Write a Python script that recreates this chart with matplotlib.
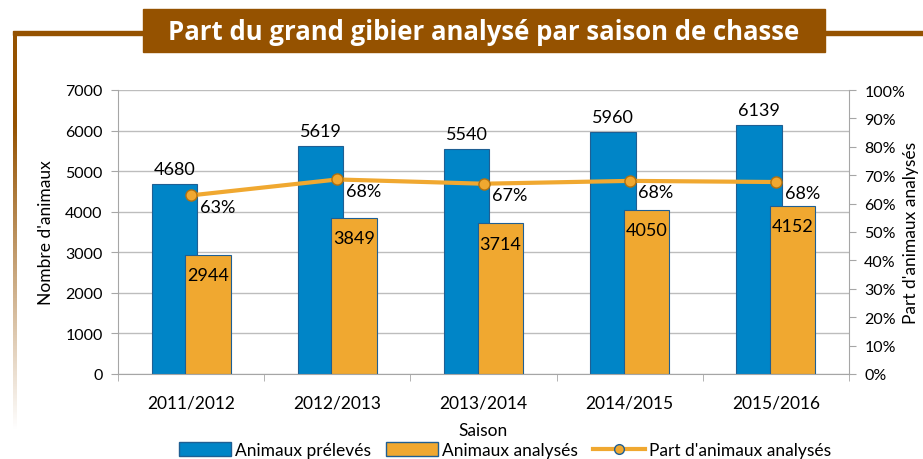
import numpy as np
import matplotlib
matplotlib.use('Agg')
import matplotlib.pyplot as plt
from matplotlib.patches import Rectangle
from matplotlib.lines import Line2D
from matplotlib.ticker import PercentFormatter, FixedLocator

plt.rcParams['font.family'] = ['Lato', 'DejaVu Sans']

saisons = ['2011/2012', '2012/2013', '2013/2014', '2014/2015', '2015/2016']
preleves = [4680, 5619, 5540, 5960, 6139]
analyses = [2944, 3849, 3714, 4050, 4152]
part = [0.629, 0.685, 0.670, 0.680, 0.676]
part_labels = ['63%', '68%', '67%', '68%', '68%']

blue = '#0085C7'
blue_edge = '#1F5F93'
orange = '#F0A830'
brown = '#955200'
grid_grey = '#BDBDBD'

fig = plt.figure(figsize=(9.23, 4.6), dpi=100)
W, H = 923, 460

def fx(px):
    return px / W

def fy(py):
    return 1 - py / H

# title banner and frame lines
fig.add_artist(Rectangle((fx(143), fy(53)), fx(825 - 143), (53 - 10) / H,
                         transform=fig.transFigure, color=brown, zorder=5))
fig.add_artist(Rectangle((fx(13), fy(36)), fx(143 - 13), 4 / H,
                         transform=fig.transFigure, color=brown, zorder=4))
fig.add_artist(Rectangle((fx(825), fy(36)), fx(W - 825), 4 / H,
                         transform=fig.transFigure, color=brown, zorder=4))
fig.text(fx(484), fy(32), 'Part du grand gibier analysé par saison de chasse',
         color='white', fontsize=18.5, fontweight='bold', ha='center', va='center',
         family=['Open Sans', 'DejaVu Sans'], zorder=6)

# fading vertical line on the left
gax = fig.add_axes([fx(13), fy(440), fx(4), (440 - 32) / H])
gax.axis('off')
t = np.linspace(0, 1, 200)
img = np.zeros((200, 1, 4))
img[..., 0] = 0x95 / 255
img[..., 1] = 0x52 / 255
img[..., 2] = 0
img[:, 0, 3] = np.clip((t - 0.02) / 0.75, 0, 1)  # bottom -> top
gax.imshow(img, aspect='auto', origin='lower', extent=(0, 1, 0, 1))

# main chart
ax = fig.add_axes([fx(118), fy(375), fx(849 - 118), (375 - 91) / H])
x = np.arange(len(saisons))
w = 0.31
off = 0.115

ax.bar(x - off, preleves, w, color=blue, edgecolor=blue_edge, linewidth=0.8, zorder=2)
ax.bar(x + off, analyses, w, color=orange, edgecolor=blue_edge, linewidth=0.8, zorder=3)

for i in range(len(saisons)):
    ax.text(x[i] - off, preleves[i] + 180, str(preleves[i]), ha='center', va='bottom',
            fontsize=13, zorder=6)
    ax.text(x[i] + off, analyses[i] - 500, str(analyses[i]), ha='center', va='center',
            fontsize=13, zorder=6)

ax.set_xlim(-0.5, len(saisons) - 0.5)
ax.set_ylim(0, 7000)
ax.set_yticks(range(0, 7001, 1000))
ax.yaxis.grid(True, color=grid_grey, linewidth=1, zorder=0)
ax.set_axisbelow(True)
ax.set_xticks(x)
ax.set_xticklabels(saisons, fontsize=12.5)
ax.xaxis.set_minor_locator(FixedLocator(np.arange(-0.5, len(saisons), 1.0)))
ax.tick_params(axis='x', which='major', length=0, pad=15)
ax.tick_params(axis='x', which='minor', length=5, color='#A6A6A6')
ax.tick_params(axis='y', length=5, color='#A6A6A6', labelsize=11.5, pad=6)
for s in ['top', 'right']:
    ax.spines[s].set_visible(False)
for s in ['left', 'bottom']:
    ax.spines[s].set_color('#A6A6A6')
ax.set_ylabel("Nombre d'animaux", fontsize=12.5, labelpad=8)
ax.set_xlabel('Saison', fontsize=12.5, labelpad=8)

ax2 = ax.twinx()
ax2.set_ylim(0, 1)
ax2.set_yticks(np.arange(0, 1.01, 0.1))
ax2.yaxis.set_major_formatter(PercentFormatter(1.0, decimals=0))
ax2.tick_params(axis='y', length=5, color='#A6A6A6', labelsize=11.5, pad=6)
for s in ['top', 'left', 'bottom']:
    ax2.spines[s].set_visible(False)
ax2.spines['right'].set_color('#A6A6A6')
ax2.set_ylabel("Part d'animaux analysés", fontsize=12.5, rotation=90,
               va='center', ha='center')
ax2.yaxis.set_label_coords((911 - 118) / (849 - 118), 0.5)
ax2.plot(x, part, color=orange, linewidth=3, marker='o', markersize=8,
         markerfacecolor=orange, markeredgecolor='#B07010', zorder=5)
for i in range(len(saisons)):
    ax2.text(x[i] + 0.18, part[i] - 0.04, part_labels[i], ha='center', va='center',
             fontsize=13, zorder=6)

handles = [Rectangle((0, 0), 1, 1, facecolor=blue, edgecolor=blue_edge),
           Rectangle((0, 0), 1, 1, facecolor=orange, edgecolor=blue_edge),
           Line2D([], [], color=orange, linewidth=3, marker='o', markersize=7,
                  markerfacecolor=orange, markeredgecolor='#1F5F93')]
fig.legend(handles, ['Animaux prélevés', 'Animaux analysés', "Part d'animaux analysés"],
           loc='center', bbox_to_anchor=(fx(505), fy(451)), ncol=3, frameon=False,
           fontsize=12.5, handlelength=3.0, handleheight=0.9, handletextpad=0.2,
           columnspacing=0.9, borderaxespad=0)

fig.savefig('out.png', dpi=100)
